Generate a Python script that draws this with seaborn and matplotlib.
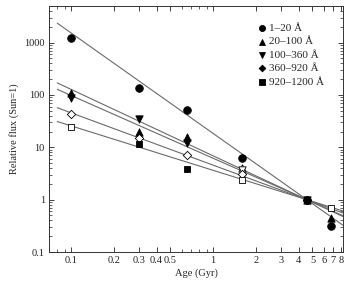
import numpy as np
import pandas as pd
import matplotlib
matplotlib.use("Agg")
import matplotlib.pyplot as plt
import matplotlib.ticker as mticker
import seaborn as sns

# stellar ages (Gyr) of the sample
ages = [0.1, 0.3, 0.65, 1.6, 4.56, 6.7]

# relative fluxes per band (None = no point)
band_labels = ["1\u201320 \u00c5", "20\u2013100 \u00c5", "100\u2013360 \u00c5",
               "360\u2013920 \u00c5", "920\u20131200 \u00c5"]
flux_1_20 = [1200, 135, 51, 6.3, 1.0, 0.32]
flux_20_100 = [110, 20, 15.5, 4.1, 1.0, 0.45]
flux_100_360 = [88, 34, 12, 3.7, 1.0, None]
flux_360_920 = [44, 15, 7.0, 3.1, 1.0, None]
flux_920_1200 = [24, 11.4, 3.9, 2.4, 1.0, 0.70]

# open (True) or filled (False) symbols
open_1_20 = [False, False, False, False, False, False]
open_20_100 = [False, False, False, True, False, False]
open_100_360 = [False, False, False, True, False, False]
open_360_920 = [True, True, True, True, False, False]
open_920_1200 = [True, False, False, True, False, True]

# power-law fit exponents (relative to the Sun at 4.56 Gyr)
fit_slopes = [-1.92, -1.27, -1.20, -1.00, -0.85]
fit_age_range = [0.08, 8.2]
sun_age = 4.56

series = [flux_1_20, flux_20_100, flux_100_360, flux_360_920, flux_920_1200]
opens = [open_1_20, open_20_100, open_100_360, open_360_920, open_920_1200]
markers = ["o", "^", "v", "D", "s"]
sizes = [30, 28, 28, 18, 22]

sns.set_style("ticks")
plt.rcParams["font.family"] = ["Liberation Serif", "DejaVu Serif"]
plt.rcParams["mathtext.fontset"] = "stix"

fig = plt.figure(figsize=(3.49, 2.85), dpi=100)
ax = fig.add_axes([49 / 349, 1 - 252 / 285, (343 - 49) / 349, (252 - 6) / 285])

# fit lines
for slope in fit_slopes:
    xs = np.array(fit_age_range)
    line = pd.DataFrame({"age": xs, "flux": (xs / sun_age) ** slope})
    sns.lineplot(data=line, x="age", y="flux", ax=ax, color="#6a6a6a",
                 linewidth=0.8, zorder=1)

# data points
for vals, op, mk, sz, lab in zip(series, opens, markers, sizes, band_labels):
    df = pd.DataFrame({"age": ages, "flux": vals, "open": op}).dropna()
    filled = df[~df["open"]]
    hollow = df[df["open"]]
    sns.scatterplot(data=filled, x="age", y="flux", ax=ax, marker=mk, s=sz,
                    color="black", edgecolor="black", linewidth=0.6,
                    zorder=3, label=lab)
    if len(hollow):
        sns.scatterplot(data=hollow, x="age", y="flux", ax=ax, marker=mk, s=sz,
                        facecolor="white", edgecolor="black", linewidth=0.6,
                        zorder=3)

ax.set_xscale("log")
ax.set_yscale("log")
ax.set_xlim(0.070, 8.2)
ax.set_ylim(0.1, 5000)

xt = [0.1, 0.2, 0.3, 0.4, 0.5, 1, 2, 3, 4, 5, 6, 7, 8]
xt_labels = ["0.1", "0.2", "0.3", "0.4", "0.5", "1", "2", "3", "4", "5", "6", "7", "8"]
ax.xaxis.set_major_locator(mticker.FixedLocator(xt))
ax.xaxis.set_major_formatter(mticker.FixedFormatter(xt_labels))
ax.xaxis.set_minor_locator(mticker.FixedLocator([0.08, 0.09, 0.6, 0.7, 0.8, 0.9]))
ax.xaxis.set_minor_formatter(mticker.NullFormatter())

yt = [0.1, 1, 10, 100, 1000]
ax.yaxis.set_major_locator(mticker.FixedLocator(yt))
ax.yaxis.set_major_formatter(mticker.FixedFormatter(["0.1", "1", "10", "100", "1000"]))
ax.yaxis.set_minor_locator(mticker.LogLocator(base=10, subs=np.arange(2, 10), numticks=20))
ax.yaxis.set_minor_formatter(mticker.NullFormatter())

ax.tick_params(which="both", direction="in", top=True, right=True,
               labelsize=7.5, colors="#222222", pad=3)
ax.tick_params(which="major", length=3.5, width=0.6)
ax.tick_params(which="minor", length=2, width=0.5)
for sp in ax.spines.values():
    sp.set_linewidth(0.7)
    sp.set_color("#333333")

ax.set_xlabel("Age (Gyr)", fontsize=7.5, labelpad=2)
ax.set_ylabel("Relative flux (Sun=1)", fontsize=7.5, labelpad=4)

leg = ax.legend(loc="upper right", bbox_to_anchor=(0.958, 0.957), frameon=False,
                fontsize=8, handletextpad=0.1, labelspacing=0.33,
                borderaxespad=0.2, handlelength=1.0, markerscale=0.8)

fig.savefig("out.png", dpi=100)
